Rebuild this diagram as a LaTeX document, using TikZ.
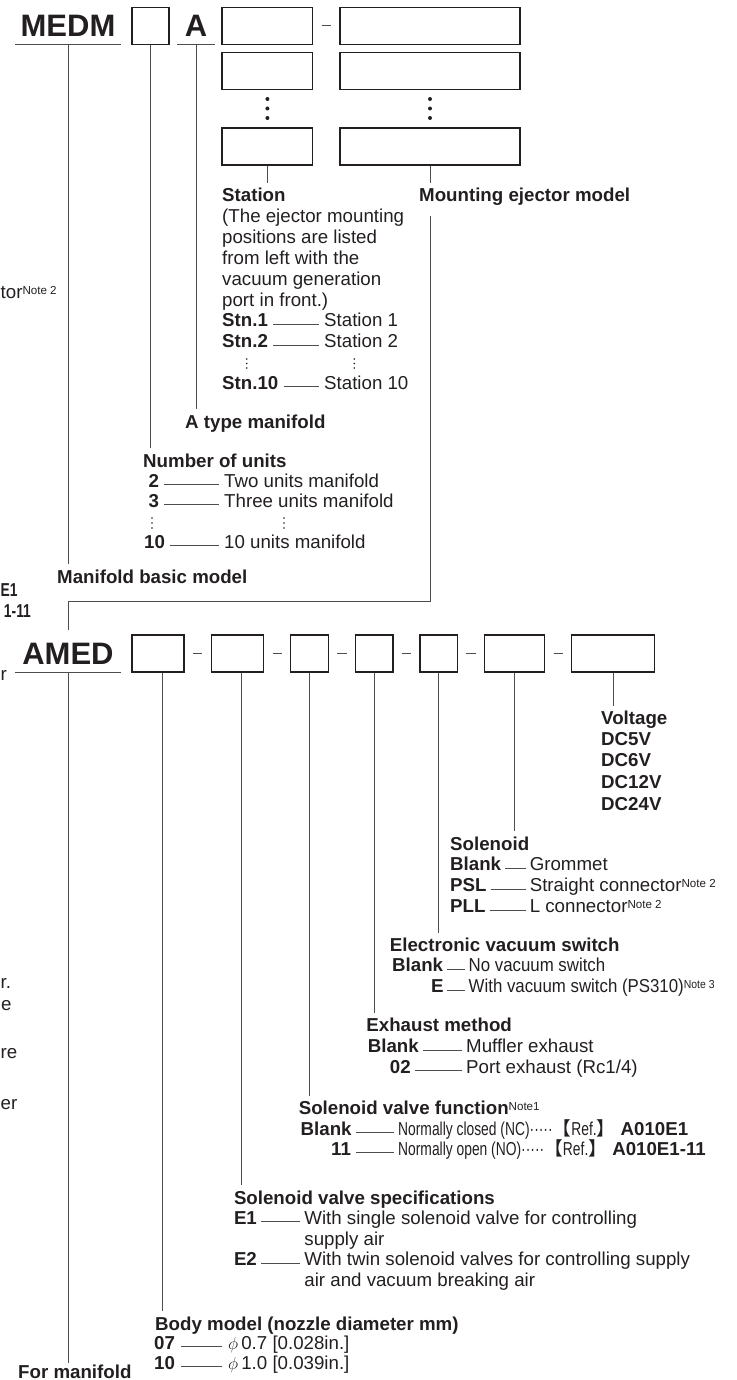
\documentclass[tikz,border=0pt]{standalone}
\usepackage{fontspec}
\setmainfont{Liberation Sans}
\newfontfamily\cnd[FakeStretch=0.74]{Liberation Sans}
\newfontfamily\semi[FakeStretch=0.9]{Liberation Sans}
\newfontfamily\cjk{Noto Sans CJK JP}

\definecolor{ink}{HTML}{231F20}
\definecolor{rule}{HTML}{4D4D4D}
\newcommand\fs{\fontsize{18.7}{20.8}\selectfont}
\newcommand\nte[1]{\raisebox{4pt}{\mdseries\fontsize{11.6}{12}\selectfont #1}}
\newcommand\refx{{\cjk【}Ref.{\cjk】}}

\tikzset{
  txt/.style={anchor=base west, inner sep=0pt, text=ink, font=\fs},
  code/.style={txt, font=\fs\bfseries},
  ttl/.style={code, text height=13.4pt, text depth=0pt, inner ysep=5pt},
  frag/.style={txt},
  slot/.style={draw=ink, line width=1.2pt, minimum height=37pt, inner sep=0pt},
  big/.style={anchor=base, inner xsep=0pt, text=ink, text depth=0pt,
    font=\fontsize{31}{31}\selectfont\bfseries},
  lead/.style={draw=rule, line width=0.9pt},
  gap/.style={lead, shorten <=#1, shorten >=#1},
  gap/.default=5pt,
}

\begin{document}
\begin{tikzpicture}[x=1pt, y=-1pt]
                \useasboundingbox (0,0) rectangle (736,1380);
                \clip (0,0) rectangle (736,1380);

                % MEDM code line
                \node[big, minimum width=105pt, inner ysep=7.3pt] (medm) at (68,37) {MEDM};
                \draw[lead] (medm.south west) -- (medm.south east);
                \node[slot, minimum width=37pt] (unit) at (150.5,25.8) {};
                \node[big, minimum width=37.5pt, inner ysep=7.3pt] (atp) at (196,37) {A};
                \draw[lead] (atp.south west) -- (atp.south east);

                \node[slot, minimum width=90.7pt] (st1) at (267.4,25.8) {};
                \node[slot, minimum width=90.7pt] (st2) at (267.4,71) {};
                \node[slot, minimum width=90.7pt] (st3) at (267.4,146.5) {};
                \node[slot, minimum width=180pt] (ej1) at (430,25.8) {};
                \node[slot, minimum width=180pt] (ej2) at (430,71) {};
                \node[slot, minimum width=180pt] (ej3) at (430,146.5) {};
                \draw[gap=8.3pt] (st1) -- (ej1);
                \foreach \y in {99,108.5,118} {
                    \fill[ink] (267.4,\y) circle (2pt);
                    \fill[ink] (430,\y) circle (2pt);
                }

                % station
                \node[ttl] (stat) at (222,202) {Station};
                \node[txt] (stp1) at (222,222.7) {(The ejector mounting};
                \node[txt] (stp2) at (222,243.5) {positions are listed};
                \node[txt] (stp3) at (222,264.3) {from left with the};
                \node[txt] (stp4) at (222,285) {vacuum generation};
                \node[txt] (stp5) at (222,306) {port in front.)};
                \node[code] (sn1) at (222,326.7) {Stn.1};
                \node[txt] (sd1) at (324,326.7) {Station 1};
                \node[code] (sn2) at (222,347.7) {Stn.2};
                \node[txt] (sd2) at (324,347.7) {Station 2};
                \node[code] (sn10) at (222,389) {Stn.10};
                \node[txt] (sd10) at (324,389) {Station 10};
                \draw[gap] (sn1.mid east) -- (sd1.mid west);
                \draw[gap] (sn2.mid east) -- (sd2.mid west);
                \draw[gap] (sn10.mid east) -- (sd10.mid west);
                \foreach \y in {359,363.5,368} {
                    \fill[ink] (246.7,\y) circle (0.9pt);
                    \fill[ink] (354.3,\y) circle (0.9pt);
                }
                \node[ttl] (mem) at (419,202) {Mounting ejector model};

                \node[ttl] (aty) at (185,428) {A type manifold};

                % number of units
                \node[ttl] (nou) at (143,467) {Number of units};
                \node[code] (n2) at (148.3,487) {2};
                \node[txt] (nd2) at (224,487) {Two units manifold};
                \node[code] (n3) at (148.3,507.5) {3};
                \node[txt] (nd3) at (224,507.5) {Three units manifold};
                \node[code] (n10) at (144,548) {10};
                \node[txt] (nd10) at (224,548) {10 units manifold};
                \draw[gap] (n2.mid east) -- (nd2.mid west);
                \draw[gap] (n3.mid east) -- (nd3.mid west);
                \draw[gap] (n10.mid east) -- (nd10.mid west);
                \foreach \y in {518,523,528} {
                    \fill[ink] (152,\y) circle (0.9pt);
                    \fill[ink] (284,\y) circle (0.9pt);
                }

                \node[ttl] (mbm) at (57,583) {Manifold basic model};

                \draw[lead] (st3) -- (st3 |- stat.north);
                \draw[lead] (ej3) -- (ej3 |- mem.north);
                \draw[lead] (unit) -- (unit |- nou.north);
                \draw[lead] (atp.south) -- (atp.south |- aty.north);
                \draw[lead] (medm.south) -- (medm.south |- mbm.north);

                % AMED code line
                \node[big, minimum width=105.5pt, text height=26.5pt, inner ysep=8pt] (amed) at (68,664.5) {AMED};
                \draw[lead] (amed.south west) -- (amed.south east);
                \coordinate (jog) at (68,601);
                \draw[lead, shorten <=9pt] (ej3 |- mem.south) |- (jog) -- (amed.north);

                \node[slot, minimum width=52pt] (bdy) at (158,653.5) {};
                \node[slot, minimum width=52.5pt] (spc) at (237.5,653.5) {};
                \node[slot, minimum width=37.5pt] (fnc) at (309.6,653.5) {};
                \node[slot, minimum width=37.5pt] (exh) at (374.3,653.5) {};
                \node[slot, minimum width=37.5pt] (vsw) at (438.7,653.5) {};
                \node[slot, minimum width=60pt] (sol) at (514.7,653.5) {};
                \node[slot, minimum width=82.5pt] (vlt) at (613,653.5) {};
                \draw[gap=8.2pt] (bdy) -- (spc);
                \draw[gap=8.2pt] (spc) -- (fnc);
                \draw[gap=8.2pt] (fnc) -- (exh);
                \draw[gap=8.2pt] (exh) -- (vsw);
                \draw[gap=8.2pt] (vsw) -- (sol);
                \draw[gap=8.2pt] (sol) -- (vlt);

                % voltage
                \node[ttl] (vtt) at (601,724.5) {Voltage};
                \node[code] (v5) at (601,745.3) {DC5V};
                \node[code] (v6) at (601,766.7) {DC6V};
                \node[code] (v12) at (601,788.3) {DC12V};
                \node[code] (v24) at (601,810) {DC24V};

                % solenoid
                \node[ttl] (slt) at (450,850) {Solenoid};
                \node[code] (sl1) at (450,870.7) {Blank};
                \node[txt] (sd1x) at (529.6,870.7) {Grommet};
                \node[code] (sl2) at (450,891.7) {PSL};
                \node[txt] (sd2x) at (529.6,891.7) {Straight connector\nte{Note 2}};
                \node[code] (sl3) at (450,912.7) {PLL};
                \node[txt] (sd3x) at (529.6,912.7) {L connector\nte{Note 2}};
                \draw[gap=4pt] (sl1.mid east) -- (sd1x.mid west);
                \draw[gap=4pt] (sl2.mid east) -- (sd2x.mid west);
                \draw[gap=4pt] (sl3.mid east) -- (sd3x.mid west);

                % vacuum switch
                \node[ttl] (evt) at (389.7,951.7) {Electronic vacuum switch};
                \node[code] (ev1) at (392,971.7) {Blank};
                \node[txt] (evd1) at (468.5,971.7) {\semi No vacuum switch};
                \node[code] (ev2) at (431,992.7) {E};
                \node[txt] (evd2) at (468.5,992.7) {\semi With vacuum switch (PS310)\nte{Note 3}};
                \draw[gap=3.5pt] (ev1.mid east) -- (evd1.mid west);
                \draw[gap=3.5pt] (ev2.mid east) -- (evd2.mid west);

                % exhaust
                \node[ttl] (ext) at (366.2,1031.7) {Exhaust method};
                \node[code] (ex1) at (367.6,1052.7) {Blank};
                \node[txt] (exd1) at (466,1052.7) {Muffler exhaust};
                \node[code] (ex2) at (389.7,1073.3) {02};
                \node[txt] (exd2) at (466,1073.3) {Port exhaust (Rc1/4)};
                \draw[gap=4pt] (ex1.mid east) -- (exd1.mid west);
                \draw[gap=4pt] (ex2.mid east) -- (exd2.mid west);

                % valve function
                \node[ttl] (fnt) at (298.6,1114.5) {Solenoid valve function\nte{Note1}};
                \node[code] (fn1) at (300.5,1135) {Blank};
                \node[txt] (fnd1) at (398,1135) {{\cnd Normally closed (NC)·····\refx}\ \textbf{A010E1}};
                \node[code] (fn2) at (331,1155) {11};
                \node[txt] (fnd2) at (398,1155) {{\cnd Normally open (NO)·····\refx}\ \textbf{A010E1-11}};
                \draw[gap=4.5pt] (fn1.mid east) -- (fnd1.mid west);
                \draw[gap=4.5pt] (fn2.mid east) -- (fnd2.mid west);

                % valve specifications
                \node[ttl] (spt) at (233.8,1204) {Solenoid valve specifications};
                \node[code] (sp1) at (233.8,1224) {E1};
                \node[txt] (spd1) at (304.2,1224) {With single solenoid valve for controlling};
                \node[txt] (spd1b) at (304.2,1245) {supply air};
                \node[code] (sp2) at (233.8,1265.7) {E2};
                \node[txt] (spd2) at (304.2,1265.7) {With twin solenoid valves for controlling supply};
                \node[txt] (spd2b) at (304.2,1286.7) {air and vacuum breaking air};
                \draw[gap=4pt] (sp1.mid east) -- (spd1.mid west);
                \draw[gap=4pt] (sp2.mid east) -- (spd2.mid west);

                % body model
                \node[ttl] (bmt) at (155,1330) {Body model (nozzle diameter mm)};
                \node[code] (bm1) at (154,1349) {07};
                \node[txt] (bmd1) at (228,1349) {$\phi$\,0.7 [0.028in.]};
                \node[code] (bm2) at (154,1369.3) {10};
                \node[txt] (bmd2) at (228,1369.3) {$\phi$\,1.0 [0.039in.]};
                \draw[gap=6pt] (bm1.mid east) -- (bmd1.mid west);
                \draw[gap=6pt] (bm2.mid east) -- (bmd2.mid west);

                \node[code, text height=13.4pt, inner ysep=0pt] (fmf) at (18,1378.5) {For manifold};

                % stems of the AMED boxes
                \draw[lead] ([xshift=4pt]bdy.south) -- ([xshift=4pt]bdy.south |- bmt.north);
                \draw[lead] ([xshift=4pt]spc.south) -- ([xshift=4pt]spc.south |- spt.north);
                \draw[lead] (fnc) -- (fnc |- fnt.north);
                \draw[lead] (exh) -- (exh |- ext.north);
                \draw[lead] (vsw) -- (vsw |- evt.north);
                \draw[lead] (sol) -- (sol |- slt.north);
                \draw[lead] (vlt) -- (vlt |- vtt.north);
                \draw[lead, shorten >=2pt] (amed.south) -- (amed.south |- fmf.north);

                % pieces of the next column
                \node[frag] (fg1) at (0.5,298.3) {tor\nte{Note 2}};
                \node[frag, font=\cnd\fs\bfseries] (fg2) at (0.5,596.5) {E1};
                \node[frag, font=\cnd\fs\bfseries] (fg3) at (3.8,617) {1-11};
                \node[frag] (fg4) at (0.5,680) {r};
                \node[frag] (fg5) at (0.5,988) {r.};
                \node[frag] (fg6) at (1,1010) {e};
                \node[frag] (fg7) at (0.5,1058.5) {re};
                \node[frag] (fg8) at (0.5,1109) {er};
            \end{tikzpicture}
\end{document}
